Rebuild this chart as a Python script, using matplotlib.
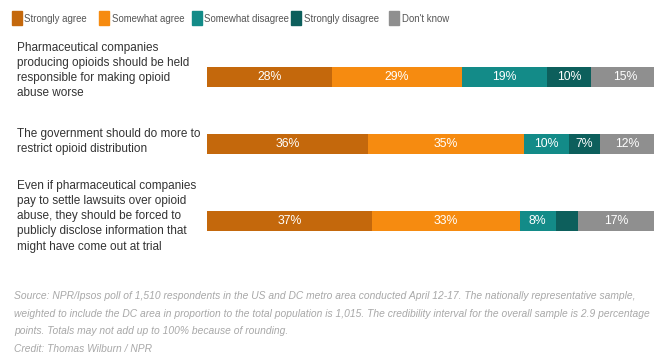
import matplotlib
matplotlib.use('Agg')
import matplotlib.pyplot as plt
from matplotlib.patches import Rectangle

plt.rcParams['font.family'] = ['Liberation Sans', 'DejaVu Sans']

categories = ['Strongly agree', 'Somewhat agree', 'Somewhat disagree',
              'Strongly disagree', "Don't know"]
colors = ['#c4680c', '#f68b10', '#138b88', '#0d5f5c', '#8f8f8f']

questions = [
    'Pharmaceutical companies\nproducing opioids should be held\nresponsible for making opioid\nabuse worse',
    'The government should do more to\nrestrict opioid distribution',
    'Even if pharmaceutical companies\npay to settle lawsuits over opioid\nabuse, they should be forced to\npublicly disclose information that\nmight have come out at trial',
]
strongly_agree = [28, 36, 37]
somewhat_agree = [29, 35, 33]
somewhat_disagree = [19, 10, 8]
strongly_disagree = [10, 7, 5]
dont_know = [15, 12, 17]

source = ('Source: NPR/Ipsos poll of 1,510 respondents in the US and DC metro area conducted April 12-17. '
          'The nationally representative sample,\nweighted to include the DC area in proportion to the total '
          'population is 1,015. The credibility interval for the overall sample is 2.9 percentage\n'
          'points. Totals may not add up to 100% because of rounding.')
credit = 'Credit: Thomas Wilburn / NPR'

W, H = 672, 359
fig = plt.figure(figsize=(W / 100, H / 100), dpi=100)
fig.patch.set_facecolor('white')

# bar area, y in pixel rows
ax = fig.add_axes([207 / W, 0, (654 - 207) / W, 1])
ax.set_xlim(0, 100)
ax.set_ylim(H, 0)
ax.axis('off')

bar_y = [77, 144, 221]
series = [strongly_agree, somewhat_agree, somewhat_disagree, strongly_disagree, dont_know]
left = [0, 0, 0]
for vals, col in zip(series, colors):
    ax.barh(bar_y, vals, left=left, height=20, color=col, edgecolor='none')
    for y, l, v in zip(bar_y, left, vals):
        if v >= 7:
            ax.text(l + v / 2, y, f'{v}%', color='white', ha='center', va='center',
                    fontsize=8.8)
    left = [a + b for a, b in zip(left, vals)]

# question labels
label_top = [42, 128, 180]
for q, t in zip(questions, label_top):
    fig.text(17 / W, 1 - t / H, q, ha='left', va='top', fontsize=8.5,
             color='#333333', linespacing=1.35)

# legend
sq_x = [12, 99, 192, 291, 389]
for x, c, name in zip(sq_x, colors, categories):
    fig.patches.append(Rectangle((x / W, 1 - 24.5 / H), 10 / W, 13 / H,
                                 transform=fig.transFigure, color=c))
    fig.text((x + 12.5) / W, 1 - 18.5 / H, name, ha='left', va='center',
             fontsize=6.9, color='#555555')

fig.text(14 / W, 1 - 291 / H, source, ha='left', va='top', fontsize=7.4,
         style='italic', color='#a8a8a8', linespacing=1.95)
fig.text(14 / W, 1 - 344 / H, credit, ha='left', va='top', fontsize=7.4,
         style='italic', color='#a8a8a8')

fig.savefig('out.png', dpi=100)
